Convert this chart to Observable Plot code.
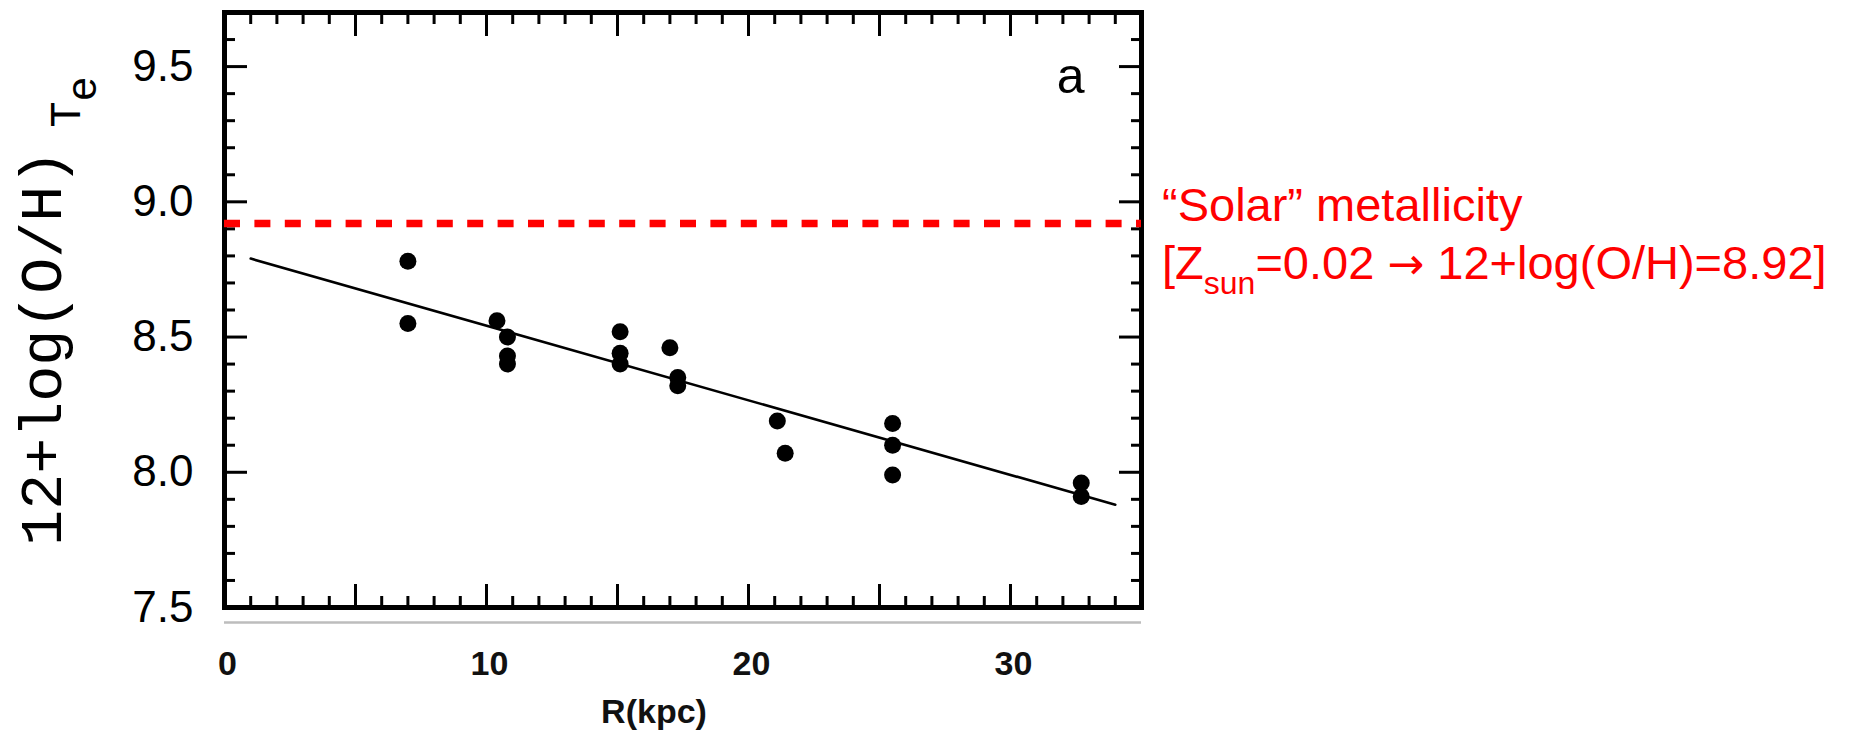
<!DOCTYPE html>
<html>
<head>
<meta charset="utf-8">
<script src="https://cdn.jsdelivr.net/npm/d3@7"></script>
<script src="https://cdn.jsdelivr.net/npm/@observablehq/plot@0.6"></script>
<style>
  body { margin: 0; background: #fff; }
  #chart svg { display: block; }
</style>
</head>
<body>
<div id="chart"></div>
<script>
// ---- data ----
const radius    = [7.0, 7.0, 10.4, 10.8, 10.8, 10.8, 15.1, 15.1, 15.1, 17.0, 17.3, 17.3, 21.1, 21.4, 25.5, 25.5, 25.5, 32.7, 32.7];
const abundance = [8.78, 8.55, 8.56, 8.50, 8.43, 8.40, 8.52, 8.44, 8.40, 8.46, 8.35, 8.32, 8.19, 8.07, 8.18, 8.10, 7.99, 7.96, 7.91];
const fitRadius    = [1, 34];
const fitAbundance = [8.79, 7.88];
const solarOH = 8.92;

const xLabelTicks = [0, 10, 20, 30];
const xMajorTicks = [0, 5, 10, 15, 20, 25, 30, 35];
const xMinorTicks = [1, 2, 3, 4, 6, 7, 8, 9, 11, 12, 13, 14, 16, 17, 18, 19, 21, 22, 23, 24, 26, 27, 28, 29, 31, 32, 33, 34];
const yMajorTicks = [7.5, 8.0, 8.5, 9.0, 9.5];
const yMinorTicks = [7.6, 7.7, 7.8, 7.9, 8.1, 8.2, 8.3, 8.4, 8.6, 8.7, 8.8, 8.9, 9.1, 9.2, 9.3, 9.4, 9.6];

const xTitle = "R(kpc)";
const panelLabel = "a";
const yTitleMain = "12+log(O/H)";
const yTitleSub = "T";
const yTitleSubSub = "e";
const noteLine1 = "\u201CSolar\u201D metallicity";

const points = radius.map((r, i) => ({r, oh: abundance[i]}));
const fit = fitRadius.map((r, i) => ({r, oh: fitAbundance[i]}));

const sans = "Liberation Sans, Arial, Helvetica, sans-serif";
const tickStyle = {strokeWidth: 3, fill: "none", label: null, stroke: "black"};

const W = 1849, H = 731, mL = 224, mR = 708, mT = 12, mB = 124;

const plot = Plot.plot({
  width: W, height: H,
  marginLeft: mL, marginRight: mR, marginTop: mT, marginBottom: mB,
  x: {domain: [0, 35]},
  y: {domain: [7.5, 9.7]},
  style: {background: "white", overflow: "visible", color: "black"},
  marks: [
    Plot.ruleY([7.5], {dy: 15, stroke: "#bdbdbd", strokeWidth: 2.5}),
    Plot.frame({stroke: "black", strokeWidth: 5}),
    // inward ticks on all four sides
    Plot.axisX(xMajorTicks, {anchor: "bottom", tickSize: -23, ...tickStyle}),
    Plot.axisX(xMinorTicks, {anchor: "bottom", tickSize: -11, ...tickStyle}),
    Plot.axisX(xMajorTicks, {anchor: "top", tickSize: -23, ...tickStyle}),
    Plot.axisX(xMinorTicks, {anchor: "top", tickSize: -11, ...tickStyle}),
    Plot.axisY(yMajorTicks, {anchor: "left", tickSize: -23, ...tickStyle}),
    Plot.axisY(yMinorTicks, {anchor: "left", tickSize: -11, ...tickStyle}),
    Plot.axisY(yMajorTicks, {anchor: "right", tickSize: -23, ...tickStyle}),
    Plot.axisY(yMinorTicks, {anchor: "right", tickSize: -11, ...tickStyle}),
    // tick labels
    Plot.axisX(xLabelTicks, {anchor: "bottom", tickSize: 0, tickPadding: 43, dx: 3,
      fontSize: 34, fontWeight: "bold", fontFamily: sans, fill: "#111", label: null}),
    Plot.axisY(yMajorTicks, {anchor: "left", tickSize: 0, tickPadding: 31,
      tickFormat: d3.format(".1f"), fontSize: 44, fontFamily: sans, fill: "black", label: null}),
    Plot.text([xTitle], {frameAnchor: "bottom", dx: -29, dy: 115, lineAnchor: "bottom",
      fontSize: 34, fontWeight: "bold", fontFamily: sans, fill: "#111"}),
    Plot.text([panelLabel], {frameAnchor: "top-right", dx: -57, dy: 80, lineAnchor: "bottom",
      textAnchor: "end", fontSize: 50, fontFamily: sans, fill: "black"}),
    // solar metallicity reference
    Plot.ruleY([solarOH], {stroke: "#ff0000", strokeWidth: 7.5, strokeDasharray: "16,14.4"}),
    // gradient fit and data
    Plot.line(fit, {x: "r", y: "oh", stroke: "black", strokeWidth: 2.6}),
    Plot.dot(points, {x: "r", y: "oh", r: 8.5, fill: "black", stroke: "none"})
  ]
});

document.getElementById("chart").appendChild(plot);

const svg = d3.select(plot);
const xs = plot.scale("x"), ys = plot.scale("y");

// rotated y-axis title with subscripts
const yMid = (ys.apply(7.5) + ys.apply(9.7)) / 2 + 1.5;
const yt = svg.append("text")
  .attr("transform", `translate(61,${yMid}) rotate(-90)`)
  .attr("text-anchor", "middle")
  .attr("font-family", "Liberation Mono, Courier New, monospace")
  .attr("font-size", 60)
  .attr("fill", "black");
yt.append("tspan").text(yTitleMain);
yt.append("tspan").attr("font-size", 44).attr("dx", 22).attr("dy", 19).text(yTitleSub);
yt.append("tspan").attr("font-size", 42).attr("dy", 16).text(yTitleSubSub);

// red annotation beside the plot
const ax = xs.apply(35) + 21;
const ay = ys.apply(solarOH);
svg.append("text")
  .attr("x", ax).attr("y", ay - 1.5)
  .attr("text-anchor", "start")
  .attr("font-family", sans).attr("font-size", 47).attr("fill", "#ff0000")
  .text(noteLine1);
const t2 = svg.append("text")
  .attr("x", ax).attr("y", ay + 56)
  .attr("text-anchor", "start")
  .attr("font-family", sans).attr("font-size", 47).attr("fill", "#ff0000");
t2.append("tspan").text("[Z");
t2.append("tspan").attr("font-size", 32).attr("dy", 15).text("sun");
t2.append("tspan").attr("dy", -15).text("=0.02 ");
t2.append("tspan").attr("font-family", "DejaVu Sans, sans-serif").attr("font-size", 44).text("\u2192");
t2.append("tspan").text(" 12+log(O/H)=8.92]");
</script>
</body>
</html>
